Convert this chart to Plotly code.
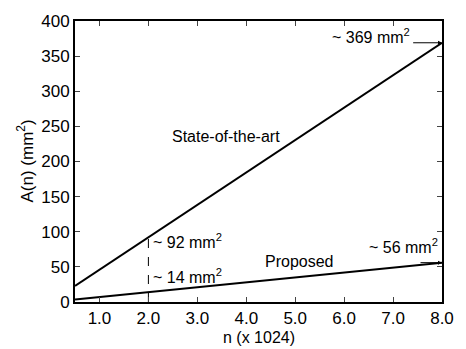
import plotly.graph_objects as go

n_vals = [0.5, 1, 2, 3, 4, 5, 6, 7, 8]
state_of_art = [23, 46, 92, 138, 184, 230, 277, 323, 369]
proposed = [3.5, 7, 14, 21, 28, 35, 42, 49, 56]
x_ticks = [1, 2, 3, 4, 5, 6, 7, 8]
x_tick_labels = ["1.0", "2.0", "3.0", "4.0", "5.0", "6.0", "7.0", "8.0"]
y_ticks = [0, 50, 100, 150, 200, 250, 300, 350, 400]

FONT = "Liberation Sans, Arial, sans-serif"

fig = go.Figure()
fig.add_trace(go.Scatter(x=n_vals, y=state_of_art, mode="lines",
                         line=dict(color="black", width=2), showlegend=False))
fig.add_trace(go.Scatter(x=n_vals, y=proposed, mode="lines",
                         line=dict(color="black", width=2), showlegend=False))
# dashed marker at n = 2
fig.add_trace(go.Scatter(x=[n_vals[2], n_vals[2]], y=[0, state_of_art[2]], mode="lines",
                         line=dict(color="black", width=1, dash="dash"), showlegend=False))

ann = []
def txt(x, y, t, xanchor="center", size=16):
    ann.append(dict(x=x, y=y, text=t, showarrow=False, xanchor=xanchor,
                    font=dict(family=FONT, size=size, color="black")))

txt(6.55, 378, "~ 369 mm<sup>2</sup>")
txt(2.05, 87, "~ 92 mm<sup>2</sup>", "left")
txt(2.05, 37, "~ 14 mm<sup>2</sup>", "left")
txt(7.22, 80, "~ 56 mm<sup>2</sup>")
txt(3.58, 236, "State-of-the-art")
txt(5.09, 58, "Proposed")

for x0, y0 in [(7.38, state_of_art[-1]), (7.53, proposed[-1])]:
    ann.append(dict(x=n_vals[-1], y=y0, ax=x0, ay=y0, axref="x", ayref="y",
                    xref="x", yref="y", text="", showarrow=True,
                    arrowhead=2, arrowsize=0.8, arrowwidth=1, arrowcolor="black"))

# axis titles
ann.append(dict(x=0.5, y=0, xref="paper", yref="paper", yshift=-35, yanchor="middle",
                text="n (x 1024)", showarrow=False,
                font=dict(family=FONT, size=16, color="black")))
ann.append(dict(x=0, y=0.5, xref="paper", yref="paper", xshift=-50, xanchor="center",
                text="A(n) (mm<sup>2</sup>)", showarrow=False, textangle=-90,
                font=dict(family=FONT, size=17, color="black")))

fig.update_layout(
    width=466, height=349,
    margin=dict(l=75, r=23, t=14, b=47),
    paper_bgcolor="white", plot_bgcolor="white",
    font=dict(family=FONT, size=17, color="black"),
    annotations=ann,
    xaxis=dict(range=[0.5, 8.0], tickvals=x_ticks, ticktext=x_tick_labels,
               ticks="inside", ticklen=5, showline=True, linecolor="black",
               linewidth=2, mirror="ticks", showgrid=False, zeroline=False,
               tickfont=dict(size=17)),
    yaxis=dict(range=[0, 400], tickvals=y_ticks,
               ticks="inside", ticklen=5, showline=True, linecolor="black",
               linewidth=2, mirror="ticks", showgrid=False, zeroline=False,
               tickfont=dict(size=17)),
)

fig.write_html("out.html", config={"displayModeBar": False},
               post_script="document.body.style.margin='0';")
